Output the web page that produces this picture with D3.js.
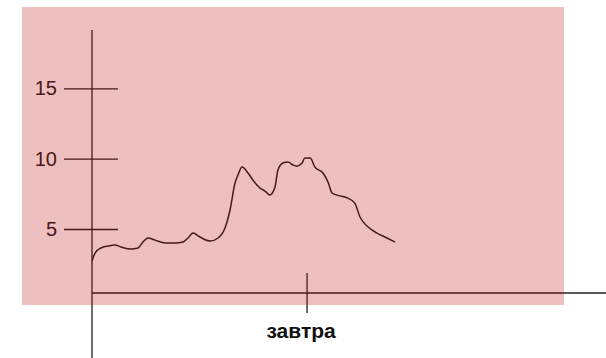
<!DOCTYPE html>
<html>
<head>
<meta charset="utf-8">
<script src="https://cdn.jsdelivr.net/npm/d3@7"></script>
<style>
  body { margin: 0; background: #fff; }
  text { font-family: "Liberation Sans", Arial, sans-serif; }
</style>
</head>
<body>
<div id="chart"></div>
<script>
// hours from now
var hours = [0, 0.34, 1.0, 1.8, 2.57, 3.24, 4.36, 5.15, 5.7, 6.26, 7.05, 8.17, 9.28, 10.18, 10.74, 11.3,
  12.08, 13.2, 14.1, 14.88, 15.44, 16.0, 16.33, 16.78, 17.45, 18.0, 18.8, 19.35, 19.9, 20.47, 20.8,
  21.36, 21.92, 22.48, 22.9, 23.5, 23.8, 24.4, 24.94, 25.84, 26.4, 26.85, 27.4, 28.6, 29.4, 29.98,
  30.76, 31.88, 33.0, 33.9];
var values = [2.72, 3.29, 3.65, 3.79, 3.86, 3.72, 3.57, 3.65, 4.07, 4.36, 4.21, 4.0, 4.0, 4.07, 4.36, 4.71,
  4.43, 4.14, 4.36, 5.07, 6.35, 8.27, 8.83, 9.4, 8.98, 8.48, 7.91, 7.7, 7.41, 7.98, 9.19,
  9.69, 9.76, 9.55, 9.47, 9.69, 10.04, 10.04, 9.4, 8.98, 8.34, 7.56, 7.41, 7.2, 6.84, 5.85,
  5.21, 4.71, 4.36, 4.07];
var yTicks = [5, 10, 15];
var xTicks = [24];
var xTickLabels = ["завтра"];

var width = 606, height = 358;

var svg = d3.select("#chart").append("svg")
  .attr("width", width)
  .attr("height", height);

var x = d3.scaleLinear().domain([0, 57.5]).range([92, 606]);
var y = d3.scaleLinear().domain([0, 19.15]).range([299.3, 30]);

var data = hours.map(function(h, i) { return {h: h, v: values[i]}; });

// y axis
var yAxis = svg.append("g")
  .attr("transform", "translate(" + x(0) + ",0)")
  .call(d3.axisLeft(y).tickValues(yTicks).tickSize(0).tickPadding(35));
yAxis.select(".domain").remove();
yAxis.selectAll(".tick line")
  .attr("x1", -28).attr("x2", 26)
  .attr("stroke", "#222").attr("stroke-width", 1.3);
yAxis.selectAll(".tick text")
  .attr("fill", "#222")
  .style("font-size", "20px")
  .style("font-family", "'Liberation Sans', Arial, sans-serif");

svg.append("line")
  .attr("x1", x(0)).attr("x2", x(0))
  .attr("y1", 30).attr("y2", height)
  .attr("stroke", "#222").attr("stroke-width", 1.3);

// x axis
var xAxis = svg.append("g")
  .attr("transform", "translate(0,293)")
  .call(d3.axisBottom(x).tickValues(xTicks)
    .tickFormat(function(d, i) { return xTickLabels[i]; })
    .tickSize(0).tickPadding(0));
xAxis.select(".domain").remove();
xAxis.selectAll(".tick line")
  .attr("y1", -20).attr("y2", 20)
  .attr("stroke", "#222").attr("stroke-width", 1.3);
xAxis.selectAll(".tick text")
  .attr("dy", null)
  .attr("y", 45)
  .attr("dx", -6)
  .attr("fill", "#111")
  .style("font-size", "21px")
  .style("font-weight", "bold")
  .style("font-family", "'Liberation Sans', Arial, sans-serif");

svg.append("line")
  .attr("x1", x(0)).attr("x2", width)
  .attr("y1", 293).attr("y2", 293)
  .attr("stroke", "#222").attr("stroke-width", 1.3);

// line
var line = d3.line()
  .x(function(d) { return x(d.h); })
  .y(function(d) { return y(d.v); })
  .curve(d3.curveMonotoneX);

svg.append("path")
  .datum(data)
  .attr("fill", "none")
  .attr("stroke", "#222")
  .attr("stroke-width", 1.5)
  .attr("d", line);

// pink overlay on top
svg.append("rect")
  .attr("x", 22).attr("y", 7)
  .attr("width", 542).attr("height", 298)
  .attr("fill", "#bb0000")
  .attr("opacity", 0.25)
  .style("pointer-events", "none");
</script>
</body>
</html>
